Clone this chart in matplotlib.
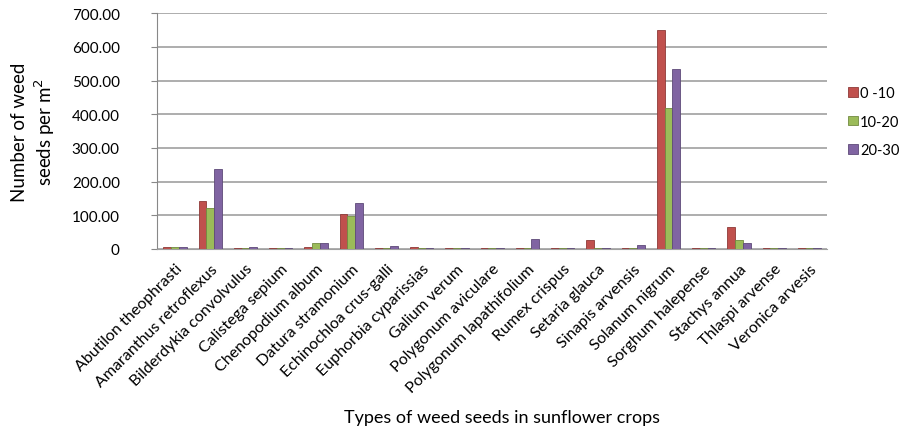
import numpy as np
import matplotlib.pyplot as plt

plt.rcParams['font.family'] = ['Lato', 'DejaVu Sans']

species = ['Abutilon theophrasti', 'Amaranthus retroflexus', 'Bilderdykia convolvulus',
           'Calistega sepium', 'Chenopodium album', 'Datura stramonium',
           'Echinochloa crus-galli', 'Euphorbia cyparissias', 'Galium verum',
           'Polygonum aviculare', 'Polygonum lapathifolium', 'Rumex crispus',
           'Setaria glauca', 'Sinapis arvensis', 'Solanum nigrum', 'Sorghum halepense',
           'Stachys annua', 'Thlaspi arvense', 'Veronica arvesis']
depth_0_10 = [5, 142, 3, 3, 5, 105, 2, 5, 2, 2, 3, 2, 28, 3, 650, 3, 65, 2, 2]
depth_10_20 = [5, 122, 3, 3, 18, 97, 3, 3, 4, 2, 3, 2, 2, 3, 420, 3, 27, 2, 2]
depth_20_30 = [5, 238, 5, 3, 18, 138, 10, 3, 4, 2, 30, 2, 2, 13, 535, 3, 18, 4, 2]
labels = ['0 -10', '10-20', '20-30']
colors = ['#C0504D', '#9BBB59', '#8064A2']
edges = ['#8E3A38', '#728A40', '#5E4A78']

fig = plt.figure(figsize=(8.99, 4.31), dpi=100)
ax = fig.add_axes([0.175, 0.42, 0.745, 0.547])

x = np.arange(len(species))
w = 0.22
for k, vals in enumerate([depth_0_10, depth_10_20, depth_20_30]):
    ax.bar(x + (k - 1) * w, vals, width=w, color=colors[k], edgecolor=edges[k],
           linewidth=0.6, label=labels[k], zorder=3)

ax.set_xlim(-0.5, len(species) - 0.5)
ax.set_ylim(0, 700)
ax.set_yticks(range(0, 701, 100))
ax.set_yticklabels(['0'] + [f'{v:.2f}' for v in range(100, 701, 100)], fontsize=11)
ax.yaxis.grid(True, color='#a0a0a0', linewidth=1.2, zorder=0)
ax.set_axisbelow(True)

ax.set_xticks(x)
ax.set_xticklabels(species, rotation=45, ha='right', rotation_mode='anchor', fontsize=11.5)
ax.tick_params(axis='x', length=0, pad=9)
ax.tick_params(axis='y', length=4, color='#888888', pad=23)

for s in ['top', 'right']:
    ax.spines[s].set_visible(False)
ax.spines['left'].set_color('#888888')
ax.spines['bottom'].set_color('#a0a0a0')

ax.set_ylabel('Number of weed\nseeds per m$^2$', fontsize=13.5)
ax.yaxis.set_label_coords(-0.15, 0.5)
fig.text(0.558, 0.030, 'Types of weed seeds in sunflower crops', ha='center', va='center',
         fontsize=13)

ax.legend(loc='center left', bbox_to_anchor=(1.012, 0.54), frameon=False, fontsize=10.5,
          handlelength=0.65, handleheight=0.65, handletextpad=0.15, labelspacing=1.0)

fig.savefig('out.png', dpi=100)
